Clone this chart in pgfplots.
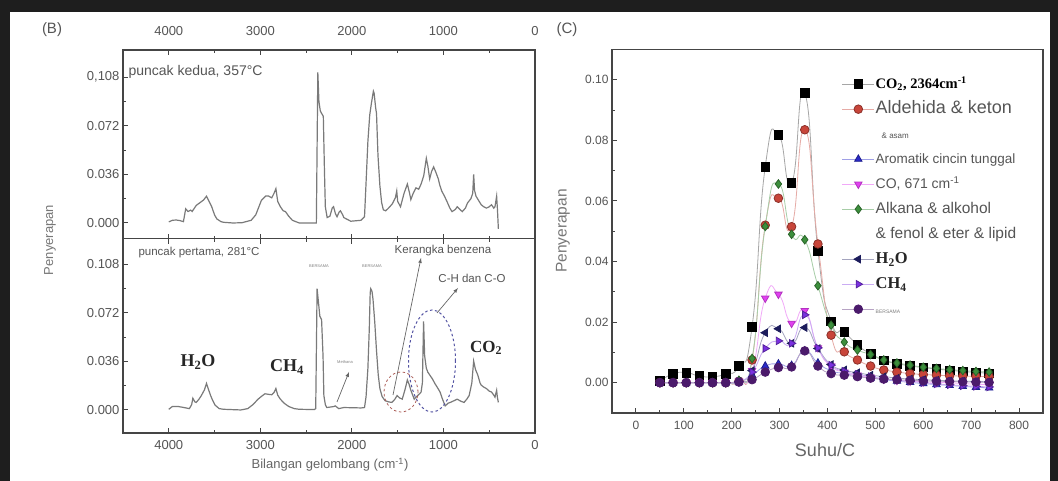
\documentclass[border=0pt]{standalone}
\usepackage{pgfplots}
\pgfplotsset{compat=1.18}
\usepackage{fontspec}
\setmainfont{Liberation Sans}
\newfontfamily\tnr{Liberation Serif}
\definecolor{frame}{HTML}{1E1E1E}
\definecolor{txt}{HTML}{555555}
\definecolor{axc}{HTML}{454545}
\definecolor{spec}{HTML}{7A7A7A}
\definecolor{cred}{HTML}{C8453A}
\definecolor{cblue}{HTML}{2A2AC8}
\definecolor{cmag}{HTML}{E040F0}
\definecolor{cgreen}{HTML}{3C8F3C}
\definecolor{cnavy}{HTML}{1C1C5C}
\definecolor{cpurp}{HTML}{7A30E0}
\definecolor{cdpurp}{HTML}{4B1A6B}

\pgfplotstableread{
wn val
4000 0.0008
3960 0.0020
3920 0.0022
3880 0.0018
3840 0.0010
3815 0.0105
3790 0.0085
3760 0.0095
3745 0.0085
3700 0.0130
3620 0.0170
3588 0.0198
3560 0.0160
3531 0.0120
3500 0.0060
3475 0.0030
3430 0.0010
3400 0.0005
3300 0.0000
3200 0.0002
3100 0.0020
3050 0.0060
2988 0.0168
2940 0.0200
2912 0.0200
2875 0.0186
2850 0.0220
2830 0.0254
2810 0.0160
2781 0.0120
2750 0.0090
2725 0.0084
2690 0.0050
2650 0.0020
2575 0.0000
2388 0.0000
2372 0.1115
2360 0.0900
2345 0.0830
2330 0.0810
2312 0.0790
2300 0.0400
2290 0.0120
2270 0.0040
2240 0.0050
2215 0.0110
2200 0.0120
2180 0.0070
2162 0.0046
2140 0.0080
2125 0.0090
2100 0.0060
2088 0.0040
2012 0.0013
1900 0.0020
1862 0.0046
1845 0.0300
1825 0.0605
1805 0.0800
1787 0.0885
1765 0.0975
1757 0.0960
1740 0.0850
1731 0.0810
1715 0.0500
1694 0.0275
1675 0.0150
1656 0.0097
1630 0.0090
1600 0.0110
1560 0.0140
1525 0.0186
1510 0.0237
1500 0.0160
1469 0.0120
1430 0.0220
1394 0.0288
1370 0.0220
1356 0.0173
1330 0.0220
1300 0.0260
1270 0.0250
1244 0.0288
1215 0.0350
1187 0.0478
1170 0.0420
1150 0.0326
1130 0.0380
1107 0.0415
1080 0.0370
1056 0.0326
1040 0.0280
1019 0.0237
990 0.0200
962 0.0160
930 0.0110
906 0.0084
870 0.0100
850 0.0120
820 0.0100
794 0.0084
760 0.0110
737 0.0148
700 0.0180
680 0.0220
670 0.0360
660 0.0240
644 0.0198
610 0.0160
587 0.0135
560 0.0120
531 0.0110
500 0.0120
475 0.0135
450 0.0110
437 0.0120
419 0.0198
410 0.0100
400 -0.0043
}\specB

\pgfplotstableread{
wn val
4000 0.0005
3960 0.0026
3900 0.0026
3850 0.0020
3775 0.0010
3750 0.0040
3737 0.0087
3715 0.0060
3700 0.0056
3670 0.0080
3644 0.0107
3610 0.0150
3588 0.0197
3565 0.0150
3543 0.0107
3520 0.0070
3494 0.0036
3450 0.0010
3400 0.0005
3213 0.0000
3137 0.0010
3080 0.0040
3025 0.0080
2980 0.0105
2950 0.0120
2900 0.0115
2875 0.0113
2850 0.0130
2830 0.0159
2810 0.0110
2781 0.0080
2740 0.0050
2690 0.0026
2630 0.0010
2575 0.0005
2410 0.0003
2395 0.0010
2380 0.0900
2365 0.0800
2350 0.0696
2331 0.0670
2315 0.0400
2306 0.0107
2290 0.0040
2275 0.0018
2200 0.0025
2181 0.0030
2144 0.0010
2088 0.0018
1900 0.0015
1862 0.0018
1845 0.0100
1825 0.0310
1810 0.0600
1800 0.0870
1794 0.0900
1780 0.0880
1769 0.0820
1750 0.0650
1731 0.0440
1712 0.0260
1694 0.0159
1670 0.0100
1638 0.0069
1600 0.0060
1563 0.0056
1530 0.0080
1506 0.0107
1480 0.0090
1450 0.0080
1420 0.0150
1394 0.0223
1375 0.0190
1356 0.0146
1330 0.0100
1319 0.0080
1300 0.0095
1281 0.0107
1260 0.0120
1244 0.0133
1230 0.0200
1217 0.0658
1205 0.0400
1187 0.0310
1170 0.0280
1150 0.0260
1120 0.0230
1094 0.0197
1060 0.0160
1037 0.0133
1010 0.0080
981 0.0030
950 0.0050
925 0.0056
880 0.0070
850 0.0080
810 0.0065
775 0.0056
745 0.0080
719 0.0107
690 0.0200
670 0.0363
650 0.0300
625 0.0260
600 0.0200
587 0.0184
560 0.0170
531 0.0159
500 0.0140
475 0.0133
450 0.0110
437 0.0095
419 0.0146
410 0.0090
400 0.0056
}\specA

\pgfplotstableread{
T co2 ald aro co alk hto chf ber
50 0.0005 0 0 0 0 0 0 0
77.5 0.0029 0 0 0 0 0 0 0
105 0.0033 0 0 0 0 0 0 0
132.5 0.0022 0 0 0 0 0 0 0
160 0.0020 0 0 0 0 0 0 0
187.5 0.0030 0 0 0 0 0 0 0
215 0.0056 0.0005 0.0003 0.0005 0.0008 0.0004 0.0004 0.0002
242.5 0.0185 0.0075 0.0025 0.0040 0.0080 0.0040 0.0035 0.0010
270 0.0713 0.0520 0.0055 0.0279 0.0516 0.0165 0.0113 0.0035
297.5 0.0818 0.0609 0.0062 0.0292 0.0656 0.0178 0.0138 0.0050
325 0.0660 0.0515 0.0057 0.0196 0.0490 0.0130 0.0130 0.0052
352.5 0.0956 0.0835 0.0105 0.0238 0.0472 0.0182 0.0224 0.0105
380 0.0436 0.0458 0.0065 0.0115 0.0320 0.0113 0.0115 0.0055
407.5 0.0203 0.0157 0.0040 0.0055 0.0190 0.0060 0.0058 0.0030
435 0.0168 0.0102 0.0030 0.0035 0.0134 0.0042 0.0038 0.0025
462.5 0.0124 0.0075 0.0022 0.0025 0.0108 0.0033 0.0028 0.0020
490 0.0096 0.0055 0.0015 0.0018 0.0093 0.0025 0.0020 0.0015
517.5 0.0074 0.0042 0.0010 0.0012 0.0075 0.0020 0.0013 0.0012
545 0.0063 0.0035 0.0005 0.0008 0.0065 0.0015 0.0008 0.0010
572.5 0.0055 0.0030 0.0001 0.0005 0.0058 0.0012 0.0004 0.0008
600 0.0050 0.0027 -0.0003 0.0003 0.0051 0.0010 0.0000 0.0006
627.5 0.0045 0.0025 -0.0006 0.0001 0.0047 0.0008 -0.0004 0.0005
655 0.0041 0.0023 -0.0009 0.0000 0.0043 0.0006 -0.0007 0.0004
682.5 0.0037 0.0022 -0.0012 -0.0003 0.0040 0.0005 -0.0010 0.0003
710 0.0034 0.0021 -0.0015 -0.0005 0.0037 0.0004 -0.0012 0.0002
737.5 0.0031 0.0020 -0.0017 -0.0006 0.0035 0.0003 -0.0014 0.0001
}\tempdata

\pgfplotsset{
  Bax/.style={
    scale only axis, width=412pt, xmin=0, xmax=4500, x dir=reverse,
    xtick={0,1000,2000,3000,4000}, minor x tick num=1,
    ytick={0,0.036,0.072,0.108}, minor y tick num=1, ytick pos=left,
    axis line style={axc, line width=1.3pt},
    every tick/.style={axc, line width=1pt},
    major tick length=5pt, minor tick length=3pt,
    tick label style={font=\fontsize{13}{13}\selectfont, text=txt},
    /pgf/number format/1000 sep={},
    /pgf/number format/assume math mode=true,
    clip=false,
  },
  Cser/.style={smooth, tension=1, line width=0.8pt, mark size=4.3pt},
  legend image code/.code={\draw[mark repeat=2,mark phase=2] plot coordinates {(0pt,0pt)(16pt,0pt)(32pt,0pt)};},
}

\begin{document}
\begin{tikzpicture}[x=1pt,y=1pt]
\useasboundingbox (0,0) rectangle (1058,481);
\fill[white] (0,0) rectangle (1058,481);

% ---------- Panel B, upper ----------
\begin{axis}[Bax, at={(123pt,242.4pt)}, anchor=south west, height=188.6pt,
  ymin=-0.01155, ymax=0.128,
  yticklabels={0.000,0.036,0.072,0{,}108},
  xticklabel pos=upper, xtick pos=both,
  xticklabel style={yshift=11pt}]
\addplot[spec, line width=1.2pt] table[x=wn,y=val]{\specB};
\end{axis}

% ---------- Panel B, lower ----------
\begin{axis}[Bax, at={(123pt,48pt)}, anchor=south west, height=194.4pt,
  ymin=-0.0171, ymax=0.1272,
  yticklabels={0.000,0.036,0.072,0.108},
  scaled y ticks=false, xtick pos=both,
  xticklabel style={yshift=-4pt}]
\addplot[spec, line width=1.2pt] table[x=wn,y=val]{\specA};
\end{axis}

% ---------- Panel C ----------
\begin{axis}[at={(612pt,68pt)}, anchor=south west, scale only axis,
  width=431pt, height=363.5pt,
  xmin=-50, xmax=850, ymin=-0.01, ymax=0.11,
  xtick={0,100,200,300,400,500,600,700,800}, minor x tick num=1,
  ytick={0,0.02,0.04,0.06,0.08,0.1}, minor y tick num=1,
  xtick pos=bottom, ytick pos=left,
  axis line style={axc, line width=1.3pt},
  every tick/.style={axc, line width=1pt},
  major tick length=5pt, minor tick length=3pt,
  tick label style={font=\fontsize{12}{12}\selectfont, text=txt},
  yticklabel style={/pgf/number format/.cd, fixed, fixed zerofill, precision=2},
  scaled y ticks=false,
  xticklabel style={yshift=-5pt},
  /pgf/number format/assume math mode=true,
  legend style={at={(0.533,0.934)}, anchor=north west, draw=none, fill=none,
    inner sep=0pt, row sep=4pt,
    nodes={text=txt, inner sep=1pt, text height=14pt, text depth=5pt, anchor=west}},
  legend cell align=left,
]
\addplot[Cser, color=gray!70, mark=square*, mark options={fill=black, draw=black}] table[x=T,y=co2]{\tempdata};
\addlegendentry{{\tnr\bfseries\fontsize{14.5}{14.5}\selectfont\color{black}CO\textsubscript{2}, 2364cm\textsuperscript{-1}}}
\addplot[Cser, color=cred!45, mark=*, mark options={fill=cred, draw=cred!70!black}] table[x=T,y=ald]{\tempdata};
\addlegendentry{{\fontsize{18}{18}\selectfont Aldehida \& keton}}
\addlegendimage{empty legend}
\addlegendentry{{\fontsize{8}{8}\selectfont\hspace{6pt}\& asam}}
\addplot[Cser, color=cblue!45, mark=triangle*, mark options={fill=cblue, draw=cblue!70!black}] table[x=T,y=aro]{\tempdata};
\addlegendentry{{\fontsize{13.5}{13.5}\selectfont Aromatik cincin tunggal}}
\addplot[Cser, color=cmag!45, mark=triangle*, mark options={fill=cmag, draw=cmag!80!black, rotate=180}] table[x=T,y=co]{\tempdata};
\addlegendentry{{\fontsize{14}{14}\selectfont CO, 671 cm\textsuperscript{-1}}}
\addplot[Cser, color=cgreen!45, mark=diamond*, mark options={fill=cgreen, draw=cgreen!70!black}] table[x=T,y=alk]{\tempdata};
\addlegendentry{{\fontsize{15.5}{15.5}\selectfont Alkana \& alkohol}}
\addlegendimage{empty legend}
\addlegendentry{{\fontsize{15.5}{15.5}\selectfont \& fenol \& eter \& lipid}}
\addplot[Cser, color=cnavy!40, mark=triangle*, mark options={fill=cnavy, draw=cnavy, rotate=90}] table[x=T,y=hto]{\tempdata};
\addlegendentry{{\tnr\bfseries\fontsize{16.5}{16.5}\selectfont\color{black!85}H\textsubscript{2}O}}
\addplot[Cser, color=cpurp!40, mark=triangle*, mark options={fill=cpurp, draw=cpurp!70!black, rotate=-90}] table[x=T,y=chf]{\tempdata};
\addlegendentry{{\tnr\bfseries\fontsize{16.5}{16.5}\selectfont\color{black!85}CH\textsubscript{4}}}
\addplot[Cser, color=cdpurp!40, mark=*, mark options={fill=cdpurp, draw=cdpurp}] table[x=T,y=ber]{\tempdata};
\addlegendentry{{\fontsize{5}{5}\selectfont\color{gray}BERSAMA}}
\end{axis}

% ---------- texts and annotations ----------
\node[font=\fontsize{15}{15}\selectfont, text=txt] at (52,451) {(B)};
\node[font=\fontsize{15}{15}\selectfont, text=txt] at (567,451) {(C)};
\node[font=\fontsize{13}{13}\selectfont, text=txt!80, rotate=90] at (50,241) {Penyerapan};
\node[font=\fontsize{13}{13}\selectfont, text=txt!90] at (330,16) {Bilangan gelombang (cm\textsuperscript{-1})};
\node[font=\fontsize{15.5}{15.5}\selectfont, text=txt!80, rotate=90] at (563,250) {Penyerapan};
\node[font=\fontsize{18}{18}\selectfont, text=txt!90] at (825,31) {Suhu/C};

\node[font=\fontsize{14}{14}\selectfont, text=txt, anchor=west] at (125,409) {puncak kedua, 357\textdegree C};
\node[font=\fontsize{11.5}{11.5}\selectfont, text=txt, anchor=west] at (135,228) {puncak pertama, 281\textdegree C};

\node[font=\tnr\bfseries\fontsize{18}{18}\selectfont, text=black!85] at (198,119) {H\textsubscript{2}O};
\node[font=\tnr\bfseries\fontsize{18}{18}\selectfont, text=black!85] at (287,114) {CH\textsubscript{4}};
\node[font=\tnr\bfseries\fontsize{17}{17}\selectfont, text=black!85] at (486,133) {CO\textsubscript{2}};

\node[font=\fontsize{4}{4}\selectfont, text=gray] at (319,215) {BERSAMA};
\node[font=\fontsize{4}{4}\selectfont, text=gray] at (372,215) {BERSAMA};
\node[font=\fontsize{4}{4}\selectfont, text=gray] at (345,119) {Methana};
\draw[-latex, gray!80!black, line width=0.7pt] (337,79) -- (349,109);

\node[font=\fontsize{11.5}{11.5}\selectfont, text=txt] at (443,230) {Kerangka benzena};
\draw[-latex, gray!80!black, line width=0.7pt] (393,86) -- (421,223);
\node[font=\fontsize{11.5}{11.5}\selectfont, text=txt] at (472,203) {C-H dan C-O};
\draw[-latex, gray!80!black, line width=0.7pt] (437,168) -- (458,193);

\draw[dashed, color=cblue!50!gray, line width=1pt, dash pattern=on 2.5pt off 2.5pt] (432,120) ellipse [x radius=23.5, y radius=51];
\draw[dashed, color=cred!60!gray, line width=0.8pt, dash pattern=on 2.5pt off 2.5pt] (401,89) ellipse [x radius=17, y radius=20];

% ---------- screenshot frame ----------
\fill[frame] (0,469) rectangle (1058,481);
\fill[frame] (0,0) rectangle (10,481);
\fill[frame] (1050,0) rectangle (1058,481);
\end{tikzpicture}
\end{document}
